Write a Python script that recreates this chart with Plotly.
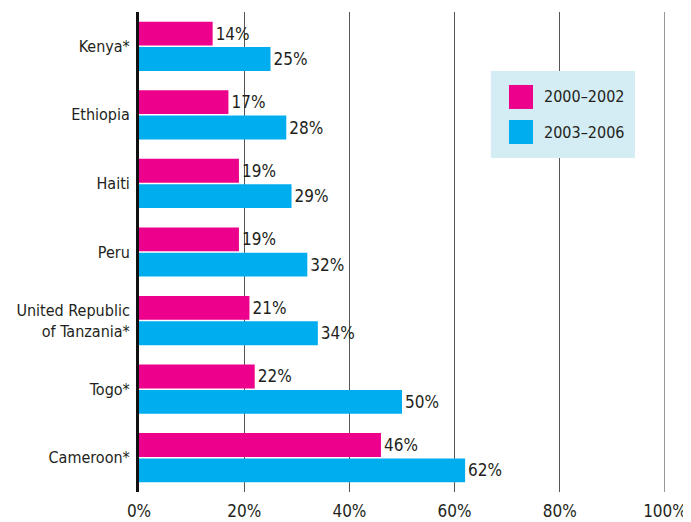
import plotly.graph_objects as go

countries = ["Kenya*", "Ethiopia", "Haiti", "Peru", "United Republic<br>of Tanzania*", "Togo*", "Cameroon*"]
v2000_2002 = [14, 17, 19, 19, 21, 22, 46]
v2003_2006 = [25, 28, 29, 32, 34, 50, 62]
series_names = ["2000–2002", "2003–2006"]
colors = ["#EC008C", "#00AEEF"]
x_ticks = [0, 20, 40, 60, 80, 100]
x_ticklabels = ["0%", "20%", "40%", "60%", "80%", "100%"]

FONT = "Liberation Sans Narrow, DejaVu Sans Condensed, Arial Narrow, sans-serif"
TXT = "#231F20"
GRID = "#555555"

fig = go.Figure()
for name, vals, col in zip(series_names, [v2000_2002, v2003_2006], colors):
    fig.add_trace(go.Bar(
        y=countries, x=vals, orientation="h", name=name,
        marker=dict(color=col, line=dict(width=0)),
        text=[f"{v}%" for v in vals], textposition="outside",
        textfont=dict(family=FONT, size=17, color=TXT),
        cliponaxis=False, showlegend=False,
    ))

# page body has an 8px margin, so the figure is sized to fill the rest of the window
fig.update_layout(
    width=683, height=514,
    margin=dict(l=131, r=26, t=4, b=30, autoexpand=False),
    paper_bgcolor="white", plot_bgcolor="white",
    barmode="group", bargap=0.26, bargroupgap=0.06,
    font=dict(family=FONT, size=17, color=TXT),
    xaxis=dict(range=[0, 100], tickvals=x_ticks, ticktext=x_ticklabels,
               showgrid=True, gridcolor=GRID, gridwidth=1.2,
               zeroline=False, showline=False, ticks="", automargin=False,
               ticklabelstandoff=7, tickfont=dict(family=FONT, size=17, color=TXT)),
    yaxis=dict(autorange="reversed", showline=True, linecolor="#111111", linewidth=3,
               showgrid=False, ticks="", ticklabelstandoff=3, automargin=False,
               tickfont=dict(family=FONT, size=16, color=TXT)),
)

# right-edge gridline at 100%
fig.add_shape(type="line", xref="x", yref="paper", x0=100, x1=100, y0=0, y1=1,
              line=dict(color=GRID, width=1.2), layer="below")

# Legend drawn as a boxed key
fig.add_shape(type="rect", xref="paper", yref="paper", x0=0.669, x1=0.943, y0=0.696, y1=0.877,
              fillcolor="#D4ECF3", line=dict(width=0), layer="above")
sq_y = [(0.798, 0.848), (0.725, 0.775)]
for (y0, y1), col, name in zip(sq_y, colors, series_names):
    fig.add_shape(type="rect", xref="paper", yref="paper", x0=0.7034, x1=0.749, y0=y0, y1=y1,
                  fillcolor=col, line=dict(width=0), layer="above")
    fig.add_annotation(xref="paper", yref="paper", x=0.766, y=(y0 + y1) / 2, text=name,
                       showarrow=False, xanchor="left", yanchor="middle",
                       font=dict(family=FONT, size=16, color=TXT))

fig.write_html("out.html")
